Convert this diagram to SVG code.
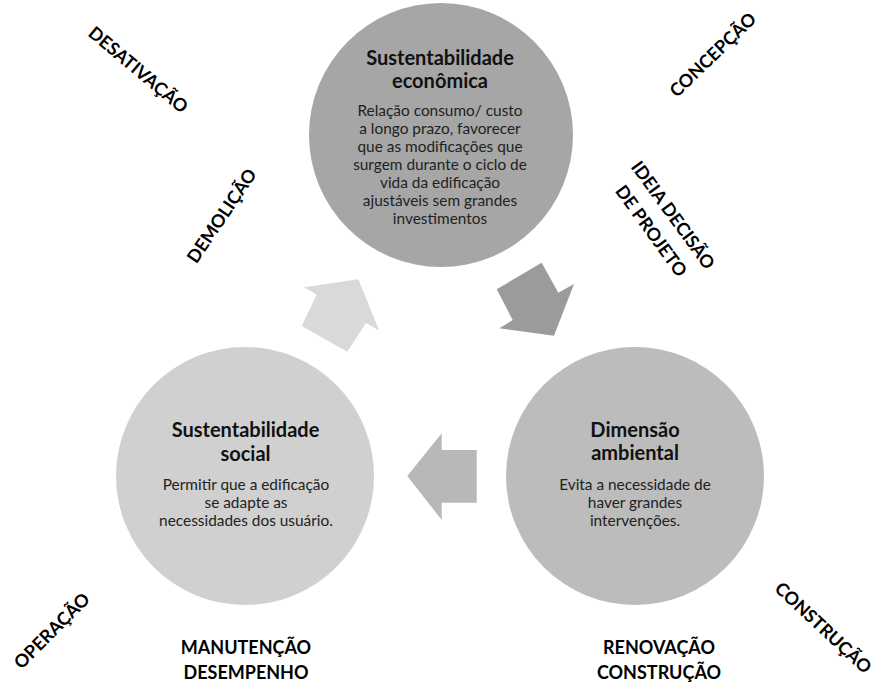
<svg xmlns="http://www.w3.org/2000/svg" width="877" height="684" viewBox="0 0 877 684">
<style>
.title{font-family:Lato,"Open Sans",sans-serif;font-weight:bold;font-size:20px;fill:#111;text-anchor:middle}
.body{font-family:Lato,"Open Sans",sans-serif;font-size:15.4px;fill:#222;text-anchor:middle}
.lbl{font-family:Lato,"Open Sans",sans-serif;font-weight:bold;font-size:18px;fill:#000;text-anchor:middle}
</style>
<rect width="877" height="684" fill="#fff"/>
<g id="connectors">
<polygon id="arrow-up" points="358.3,279.3 379.3,330.7 366,323 347.3,351.7 301.7,326 316.7,294.7 304,287.3" fill="#d9d9d9"/>
<polygon id="arrow-down" points="496.7,289.3 541.7,262.7 558.3,292.7 574,284 554,335.7 499.3,328.3 512.7,320" fill="#9b9b9b"/>
<polygon id="arrow-left" points="407.3,476 441.7,433.3 441.7,450 476.7,450 476.7,502.7 441.7,502.7 441.7,520" fill="#b8b8b8"/>
</g>
<g id="node-economica">
<circle cx="441" cy="135" r="132" fill="#a6a6a6"/>
<text class="title" x="440" y="65">Sustentabilidade</text>
<text class="title" x="440" y="88">econômica</text>
<text class="body" x="440" y="116">Relação consumo/ custo</text>
<text class="body" x="440" y="134">a longo prazo, favorecer</text>
<text class="body" x="440" y="152">que as modificações que</text>
<text class="body" x="440" y="170">surgem durante o ciclo de</text>
<text class="body" x="440" y="188">vida da edificação</text>
<text class="body" x="440" y="206">ajustáveis sem grandes</text>
<text class="body" x="440" y="224">investimentos</text>
</g>
<g id="node-social">
<circle cx="245" cy="476" r="129" fill="#d0d0d0"/>
<text class="title" x="245.5" y="437">Sustentabilidade</text>
<text class="title" x="245.5" y="461">social</text>
<text class="body" x="246" y="490">Permitir que a edificação</text>
<text class="body" x="246" y="508">se adapte as</text>
<text class="body" x="246" y="526">necessidades dos usuário.</text>
</g>
<g id="node-ambiental">
<circle cx="635" cy="476" r="129" fill="#bcbcbc"/>
<text class="title" x="635" y="437">Dimensão</text>
<text class="title" x="635" y="460">ambiental</text>
<text class="body" x="635" y="490">Evita a necessidade de</text>
<text class="body" x="635" y="508">haver grandes</text>
<text class="body" x="635" y="526">intervenções.</text>
</g>
<g id="labels">
<text class="lbl" transform="translate(138,70) rotate(40)" y="6">DESATIVAÇÃO</text>
<text class="lbl" transform="translate(222,216) rotate(-56)" y="6">DEMOLIÇÃO</text>
<text class="lbl" transform="translate(713,55) rotate(-44)" y="6">CONCEPÇÃO</text>
<g transform="translate(661.5,223.5) rotate(54)">
<text class="lbl" y="-8">IDEIA DECISÃO</text>
<text class="lbl" y="19">DE PROJETO</text>
</g>
<text class="lbl" transform="translate(52,631) rotate(-45)" y="6">OPERAÇÃO</text>
<text class="lbl" transform="translate(823,628) rotate(43)" y="6">CONSTRUÇÃO</text>
<text class="lbl" x="246" y="654">MANUTENÇÃO</text>
<text class="lbl" x="246" y="679">DESEMPENHO</text>
<text class="lbl" x="659" y="654">RENOVAÇÃO</text>
<text class="lbl" x="659" y="679">CONSTRUÇÃO</text>
</g>
</svg>
